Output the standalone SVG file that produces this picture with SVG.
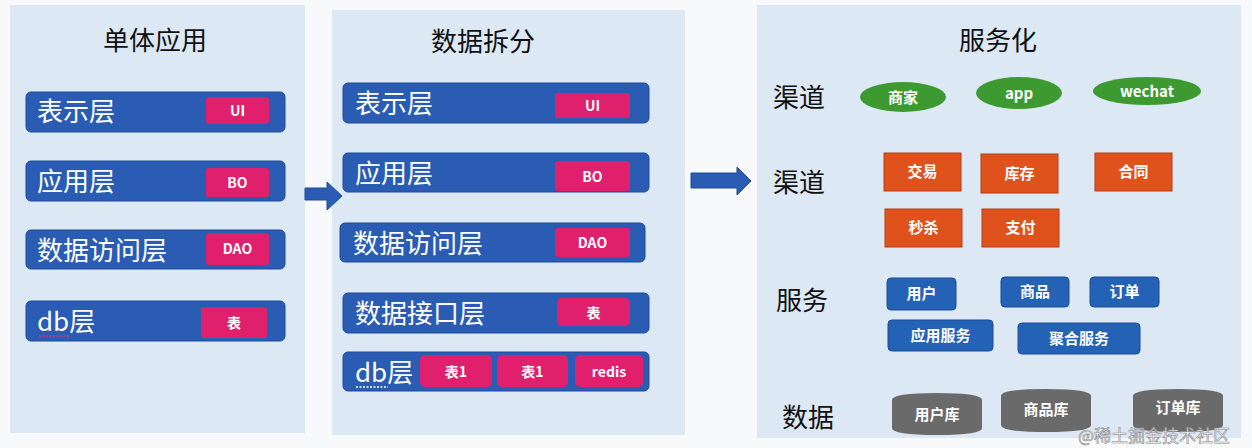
<svg xmlns="http://www.w3.org/2000/svg" width="1252" height="448" viewBox="0 0 1252 448">
<style>
text{font-family:"Noto Sans CJK SC","Liberation Sans",sans-serif;}
.panel{fill:#dce8f4;}
.title{font-size:26px;fill:#111;text-anchor:middle;}
.bar{fill:#2a5cb4;stroke:#1e4a96;stroke-width:1;}
.barT{font-size:26px;fill:#fff;}
.pink{fill:#e0206c;}
.pinkT{font-size:14px;fill:#fff;font-weight:bold;text-anchor:middle;}
.lab{font-size:26px;fill:#111;}
.ell{fill:#3c9a30;}
.org{fill:#e0521c;stroke:#b83a10;stroke-width:1;}
.blu{fill:#2462b6;stroke:#1b4c92;stroke-width:1;}
.smT{font-size:15px;fill:#fff;font-weight:bold;text-anchor:middle;}
.cyl{fill:#6a6a6a;}
.arrow{fill:#2a5cb4;stroke:#1e4a96;stroke-width:1;}
</style>
<rect width="1252" height="448" fill="#f7f9fb"/>
<rect class="panel" x="10" y="5" width="295" height="428"/>
<rect class="panel" x="332" y="10" width="353" height="425"/>
<rect class="panel" x="757" y="5" width="484" height="433"/>

<g id="panel1">
<text class="title" x="155" y="50">单体应用</text>
<g id="p1-ui"><rect class="bar" x="26" y="92" width="259" height="40" rx="5"/><text class="barT" x="37" y="121">表示层</text><rect class="pink" x="206" y="97" width="63" height="27" rx="3"/><text class="pinkT" x="237.5" y="116">UI</text></g>
<g id="p1-bo"><rect class="bar" x="26" y="161" width="259" height="40" rx="5"/><text class="barT" x="37" y="191">应用层</text><rect class="pink" x="206" y="168" width="63" height="29" rx="3"/><text class="pinkT" x="237.5" y="188">BO</text></g>
<g id="p1-dao"><rect class="bar" x="26" y="230" width="259" height="39" rx="5"/><text class="barT" x="37" y="260">数据访问层</text><rect class="pink" x="206" y="233" width="63" height="32" rx="3"/><text class="pinkT" x="237.5" y="254">DAO</text></g>
<g id="p1-db"><rect class="bar" x="26" y="301" width="259" height="40" rx="5"/><text class="barT" x="37" y="331">db层</text><line x1="39" y1="336" x2="70" y2="336" stroke="#e0307a" stroke-width="1.5" stroke-dasharray="2,1.5"/><rect class="pink" x="201" y="307" width="66" height="31" rx="3"/><text class="pinkT" x="234" y="328">表</text></g>
</g>

<g id="panel2">
<text class="title" x="483" y="51">数据拆分</text>
<g id="p2-ui"><rect class="bar" x="343" y="83" width="306" height="40" rx="5"/><text class="barT" x="355" y="113">表示层</text><rect class="pink" x="555" y="93" width="75" height="25" rx="3"/><text class="pinkT" x="592.5" y="111">UI</text></g>
<g id="p2-bo"><rect class="bar" x="343" y="153" width="306" height="39" rx="5"/><text class="barT" x="355" y="183">应用层</text><rect class="pink" x="555" y="161" width="75" height="30" rx="3"/><text class="pinkT" x="592.5" y="182">BO</text></g>
<g id="p2-dao"><rect class="bar" x="340" y="223" width="305" height="39" rx="5"/><text class="barT" x="353" y="253">数据访问层</text><rect class="pink" x="555" y="228" width="75" height="29" rx="3"/><text class="pinkT" x="592.5" y="248">DAO</text></g>
<g id="p2-if"><rect class="bar" x="343" y="293" width="306" height="40" rx="5"/><text class="barT" x="355" y="323">数据接口层</text><rect class="pink" x="557" y="298" width="73" height="28" rx="5"/><text class="pinkT" x="593.5" y="318">表</text></g>
<g id="p2-db"><rect class="bar" x="343" y="352" width="306" height="39" rx="5"/><text class="barT" x="355" y="382">db层</text><line x1="356" y1="387" x2="388" y2="387" stroke="#ffffff" stroke-width="1.5" stroke-dasharray="2,1.5"/>
<rect class="pink" x="420" y="355" width="72" height="32" rx="5"/><text class="pinkT" x="456" y="377">表1</text>
<rect class="pink" x="497" y="355" width="71" height="32" rx="5"/><text class="pinkT" x="532.5" y="377">表1</text>
<rect class="pink" x="575" y="355" width="68" height="32" rx="5"/><text class="pinkT" x="609" y="377">redis</text></g>
</g>

<g id="panel3">
<text class="title" x="998" y="50">服务化</text>
<text class="lab" x="773" y="107">渠道</text>
<text class="lab" x="773" y="192">渠道</text>
<text class="lab" x="776" y="310">服务</text>
<text class="lab" x="782" y="427">数据</text>
<g id="ch-shangjia"><ellipse class="ell" cx="903" cy="97" rx="43" ry="15"/><text class="smT" x="903" y="103">商家</text></g>
<g id="ch-app"><ellipse class="ell" cx="1019" cy="93" rx="43" ry="16"/><text class="smT" x="1019" y="99">app</text></g>
<g id="ch-wechat"><ellipse class="ell" cx="1147" cy="91" rx="54" ry="14"/><text class="smT" x="1147" y="97">wechat</text></g>
<g id="s-jiaoyi"><rect class="org" x="884" y="153" width="77" height="38"/><text class="smT" x="922.5" y="177">交易</text></g>
<g id="s-kucun"><rect class="org" x="981" y="154" width="77" height="39"/><text class="smT" x="1019.5" y="179">库存</text></g>
<g id="s-hetong"><rect class="org" x="1095" y="153" width="77" height="38"/><text class="smT" x="1133.5" y="177">合同</text></g>
<g id="s-miaosha"><rect class="org" x="885" y="209" width="77" height="38"/><text class="smT" x="923.5" y="233">秒杀</text></g>
<g id="s-zhifu"><rect class="org" x="982" y="209" width="77" height="38"/><text class="smT" x="1020.5" y="233">支付</text></g>
<g id="b-yonghu"><rect class="blu" x="887" y="278" width="69" height="32" rx="4"/><text class="smT" x="921.5" y="299">用户</text></g>
<g id="b-shangpin"><rect class="blu" x="1001" y="277" width="68" height="30" rx="4"/><text class="smT" x="1035" y="297">商品</text></g>
<g id="b-dingdan"><rect class="blu" x="1090" y="277" width="69" height="30" rx="4"/><text class="smT" x="1124.5" y="297">订单</text></g>
<g id="b-yingyong"><rect class="blu" x="888" y="320" width="105" height="31" rx="4"/><text class="smT" x="940.5" y="341">应用服务</text></g>
<g id="b-juhe"><rect class="blu" x="1018" y="323" width="122" height="31" rx="4"/><text class="smT" x="1079" y="344">聚合服务</text></g>
<g id="d-yonghu"><path class="cyl" d="M892,400 Q892,393 937,393 Q982,393 982,400 L982,428 Q982,435 937,435 Q892,435 892,428 Z"/><text class="smT" x="937" y="420">用户库</text></g>
<g id="d-shangpin"><path class="cyl" d="M1001,396 Q1001,389 1046,389 Q1091,389 1091,396 L1091,425 Q1091,432 1046,432 Q1001,432 1001,425 Z"/><text class="smT" x="1046" y="415">商品库</text></g>
<g id="d-dingdan"><path class="cyl" d="M1133,396 Q1133,389 1178,389 Q1223,389 1223,396 L1223,425 Q1223,432 1178,432 Q1133,432 1133,425 Z"/><text class="smT" x="1178" y="413">订单库</text></g>
</g>

<g id="connectors">
<path class="arrow" d="M305,188 L327,188 L327,182 L342,196 L327,210 L327,200 L305,200 Z"/>
<path class="arrow" d="M691,173 L737,173 L737,167 L751,181 L737,195 L737,188 L691,188 Z"/>
</g>
<text x="1078" y="442" font-size="17" fill="#ffffff" fill-opacity="0.8" stroke="#8a8a8a" stroke-width="0.6">@稀土掘金技术社区</text>
</svg>
